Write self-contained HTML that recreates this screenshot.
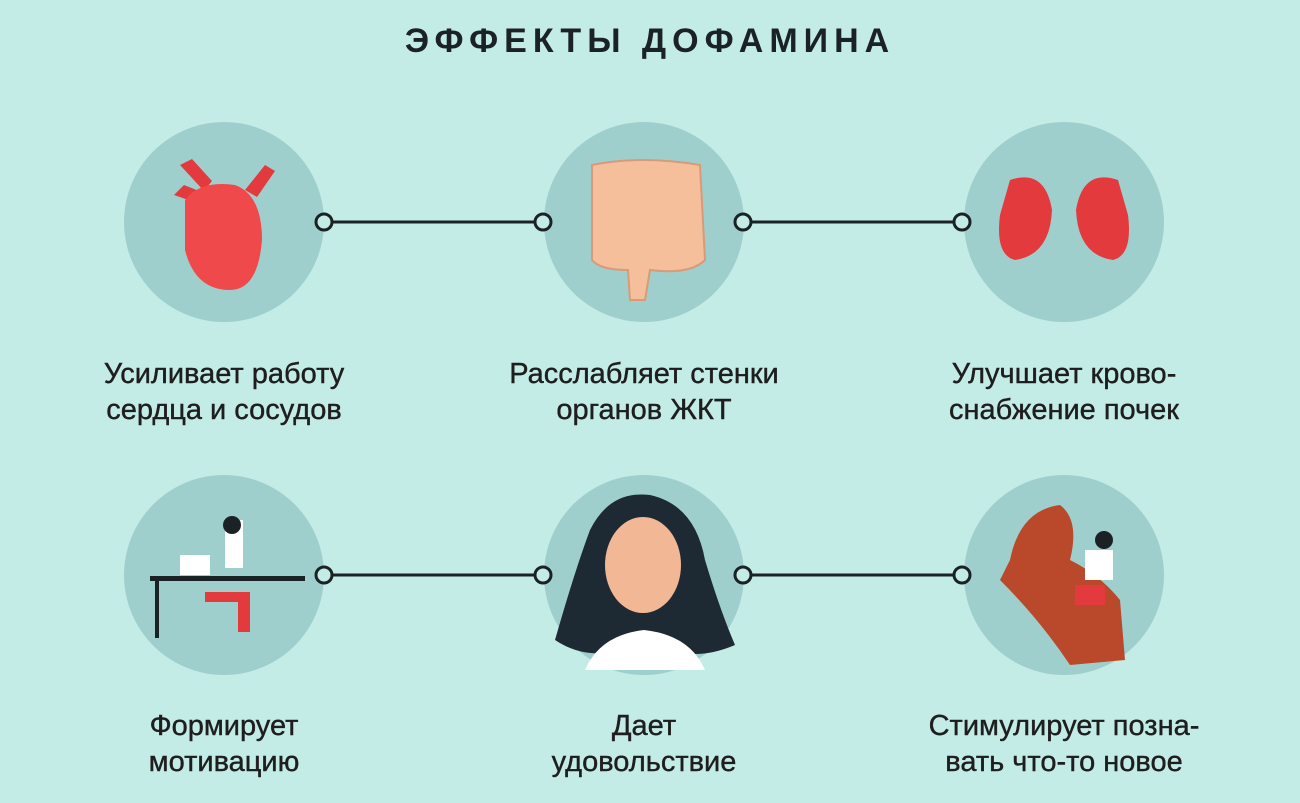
<!DOCTYPE html>
<html><head><meta charset="utf-8"><style>
html,body{margin:0;padding:0}
body{width:1300px;height:803px;background:#c4ece7;position:relative;overflow:hidden;font-family:"Liberation Sans","DejaVu Sans",sans-serif}
.t{position:absolute;left:0;width:1300px;top:22px;text-align:center;font-weight:bold;font-size:34px;letter-spacing:6px;color:#1b2226}
.l{position:absolute;width:360px;text-align:center;font-size:29px;line-height:36px;color:#1e1e1e;-webkit-text-stroke:0.4px #1e1e1e}
</style></head><body>
<div class="t">ЭФФЕКТЫ ДОФАМИНА</div>
<svg width="1300" height="803" style="position:absolute;left:0;top:0">
<g fill="#9fcfcc">
<circle cx="224" cy="222" r="100"/><circle cx="644" cy="222" r="100"/><circle cx="1064" cy="222" r="100"/>
<circle cx="224" cy="575" r="100"/><circle cx="644" cy="575" r="100"/><circle cx="1064" cy="575" r="100"/>
</g>
<g stroke="#1b2226" stroke-width="3" fill="#c4ece7">
<line x1="324" y1="222" x2="543" y2="222"/><line x1="743" y1="222" x2="962" y2="222"/>
<line x1="324" y1="575" x2="543" y2="575"/><line x1="743" y1="575" x2="962" y2="575"/>
<circle cx="324" cy="222" r="8"/><circle cx="543" cy="222" r="8"/><circle cx="743" cy="222" r="8"/><circle cx="962" cy="222" r="8"/>
<circle cx="324" cy="575" r="8"/><circle cx="543" cy="575" r="8"/><circle cx="743" cy="575" r="8"/><circle cx="962" cy="575" r="8"/>
</g>
<g fill="#e23a3d"><path d="M180 165 l12 -6 l20 22 l-8 10z"/><path d="M174 195 l10 -10 l25 10 l-6 10z"/><path d="M245 190 l20 -25 l10 6 l-18 26z"/></g>
<path d="M185 200 Q200 180 235 185 Q262 195 262 240 Q258 290 230 290 Q195 290 185 250Z" fill="#f0494b"/>
<path d="M592 165 Q640 155 700 165 L705 260 Q690 275 650 270 L645 300 L630 300 L628 270 Q600 270 592 260Z" fill="#f5bf9c" stroke="#d99a78" stroke-width="2"/>
<path d="M1010 180 Q1045 168 1052 210 Q1050 255 1015 260 Q995 255 1000 215Z" fill="#e23a3d"/>
<path d="M1118 180 Q1083 168 1076 210 Q1078 255 1113 260 Q1133 255 1128 215Z" fill="#e23a3d"/>
<rect x="150" y="576" width="155" height="5" fill="#1b2226"/>
<rect x="155" y="580" width="4" height="58" fill="#1b2226"/>
<rect x="225" y="520" width="18" height="48" fill="#fff"/><circle cx="232" cy="525" r="9" fill="#1b2226"/>
<path d="M205 592 h45 v40 h-12 v-30 h-33z" fill="#e23a3d"/>
<rect x="180" y="555" width="30" height="20" fill="#fff"/>
<path d="M555 640 Q575 570 590 530 Q610 490 650 495 Q695 505 705 560 Q720 610 735 645 Q700 660 670 650 L620 650 Q585 660 555 640Z" fill="#1e2a33"/>
<ellipse cx="643" cy="565" rx="38" ry="48" fill="#f2b896"/>
<path d="M585 670 Q600 635 644 630 Q690 635 705 670Z" fill="#fff"/>
<path d="M1010 560 Q1020 510 1060 505 Q1080 520 1070 560 Q1100 575 1120 600 L1125 660 L1070 665 Q1040 620 1000 580Z" fill="#b9492a"/>
<rect x="1085" y="550" width="28" height="30" fill="#fff"/><circle cx="1104" cy="540" r="9" fill="#1b2226"/>
<rect x="1075" y="585" width="30" height="20" fill="#e23a3d"/>
</svg>
<div class="l" style="left:44px;top:356px">Усиливает работу<br>сердца и сосудов</div>
<div class="l" style="left:464px;top:356px">Расслабляет стенки<br>органов ЖКТ</div>
<div class="l" style="left:884px;top:356px">Улучшает крово-<br>снабжение почек</div>
<div class="l" style="left:44px;top:708px">Формирует<br>мотивацию</div>
<div class="l" style="left:464px;top:708px">Дает<br>удовольствие</div>
<div class="l" style="left:884px;top:708px">Стимулирует позна-<br>вать что-то новое</div>
</body></html>
